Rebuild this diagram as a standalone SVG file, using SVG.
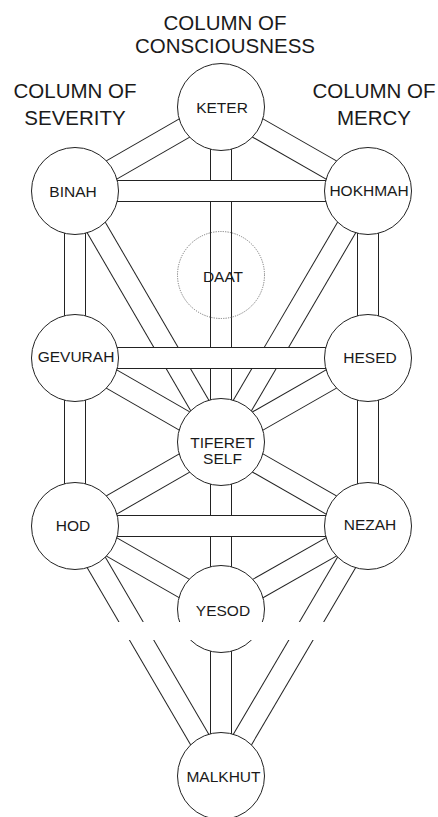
<svg xmlns="http://www.w3.org/2000/svg" width="438" height="817" viewBox="0 0 438 817">
<style>
  .o { stroke: #222; stroke-width: 22; stroke-linecap: butt; }
  .i { stroke: #fff; stroke-width: 20; stroke-linecap: butt; }
  .node { fill: #fff; stroke: #222; stroke-width: 1; }
  .daat { fill: none; stroke: #777; stroke-width: 1; stroke-dasharray: 1.2 1.2; }
  .lbl { font-family: "Liberation Sans", Arial, sans-serif; font-size: 15.5px; fill: #1a1a1a; text-anchor: middle; }
  .title { font-family: "Liberation Sans", Arial, sans-serif; font-size: 20.5px; fill: #1a1a1a; text-anchor: middle; }
</style>
<rect width="438" height="817" fill="#fff"/>
<g id="titles">
  <text class="title" x="225" y="30">COLUMN OF</text>
  <text class="title" x="225" y="53">CONSCIOUSNESS</text>
  <text class="title" x="75" y="98">COLUMN OF</text>
  <text class="title" x="75" y="125">SEVERITY</text>
  <text class="title" x="374" y="98">COLUMN OF</text>
  <text class="title" x="374" y="125">MERCY</text>
</g>
<g id="connectors">
  <!-- diagonals -->
  <line class="o" x1="221" y1="107" x2="75" y2="191"/><line class="i" x1="221" y1="107" x2="75" y2="191"/>
  <line class="o" x1="221" y1="107" x2="368" y2="191"/><line class="i" x1="221" y1="107" x2="368" y2="191"/>
  <line class="o" x1="75" y1="191" x2="221" y2="442"/><line class="i" x1="75" y1="191" x2="221" y2="442"/>
  <line class="o" x1="368" y1="191" x2="221" y2="442"/><line class="i" x1="368" y1="191" x2="221" y2="442"/>
  <line class="o" x1="75" y1="358" x2="221" y2="442"/><line class="i" x1="75" y1="358" x2="221" y2="442"/>
  <line class="o" x1="368" y1="358" x2="221" y2="442"/><line class="i" x1="368" y1="358" x2="221" y2="442"/>
  <line class="o" x1="221" y1="442" x2="75" y2="526"/><line class="i" x1="221" y1="442" x2="75" y2="526"/>
  <line class="o" x1="221" y1="442" x2="368" y2="526"/><line class="i" x1="221" y1="442" x2="368" y2="526"/>
  <line class="o" x1="75" y1="526" x2="221" y2="609.5"/><line class="i" x1="75" y1="526" x2="221" y2="609.5"/>
  <line class="o" x1="368" y1="526" x2="221" y2="609.5"/><line class="i" x1="368" y1="526" x2="221" y2="609.5"/>
  <line class="o" x1="75" y1="526" x2="221" y2="776"/><line class="i" x1="75" y1="526" x2="221" y2="776"/>
  <line class="o" x1="368" y1="526" x2="221" y2="776"/><line class="i" x1="368" y1="526" x2="221" y2="776"/>
  <!-- verticals -->
  <line class="o" x1="75" y1="191" x2="75" y2="526"/><line class="i" x1="75" y1="191" x2="75" y2="526"/>
  <line class="o" x1="368" y1="191" x2="368" y2="526"/><line class="i" x1="368" y1="191" x2="368" y2="526"/>
  <line class="o" x1="221" y1="107" x2="221" y2="776"/><line class="i" x1="221" y1="107" x2="221" y2="776"/>
  <!-- horizontals -->
  <line class="o" x1="75" y1="191" x2="368" y2="191"/><line class="i" x1="75" y1="191" x2="368" y2="191"/>
  <line class="o" x1="75" y1="358" x2="368" y2="358"/><line class="i" x1="75" y1="358" x2="368" y2="358"/>
  <line class="o" x1="75" y1="526" x2="368" y2="526"/><line class="i" x1="75" y1="526" x2="368" y2="526"/>
</g>
<g id="keter"><circle class="node" cx="221" cy="107" r="43.5"/><text class="lbl" x="222" y="113">KETER</text></g>
<g id="binah"><circle class="node" cx="75" cy="191" r="43.5"/><text class="lbl" x="73" y="197">BINAH</text></g>
<g id="hokhmah"><circle class="node" cx="368" cy="191" r="43.5"/><text class="lbl" x="369" y="196">HOKHMAH</text></g>
<g id="daat"><circle class="daat" cx="221" cy="275" r="43.5"/><text class="lbl" x="223" y="282">DAAT</text></g>
<g id="gevurah"><circle class="node" cx="75" cy="358" r="43.5"/><text class="lbl" x="76" y="362">GEVURAH</text></g>
<g id="hesed"><circle class="node" cx="368" cy="358" r="43.5"/><text class="lbl" x="370" y="363">HESED</text></g>
<g id="tiferet"><circle class="node" cx="221" cy="442" r="43.5"/><text class="lbl" x="222.5" y="447.5">TIFERET</text><text class="lbl" x="222.5" y="464">SELF</text></g>
<g id="hod"><circle class="node" cx="75" cy="526" r="43.5"/><text class="lbl" x="73" y="531">HOD</text></g>
<g id="nezah"><circle class="node" cx="368" cy="526" r="43.5"/><text class="lbl" x="370" y="529.5">NEZAH</text></g>
<g id="yesod"><circle class="node" cx="221" cy="609" r="43.5"/><text class="lbl" x="223" y="616">YESOD</text></g>
<rect id="gap" x="0" y="622" width="438" height="18" fill="#fff"/>
<g id="malkhut"><circle class="node" cx="221" cy="776" r="43.5"/><text class="lbl" x="223.5" y="782">MALKHUT</text></g>
</svg>
